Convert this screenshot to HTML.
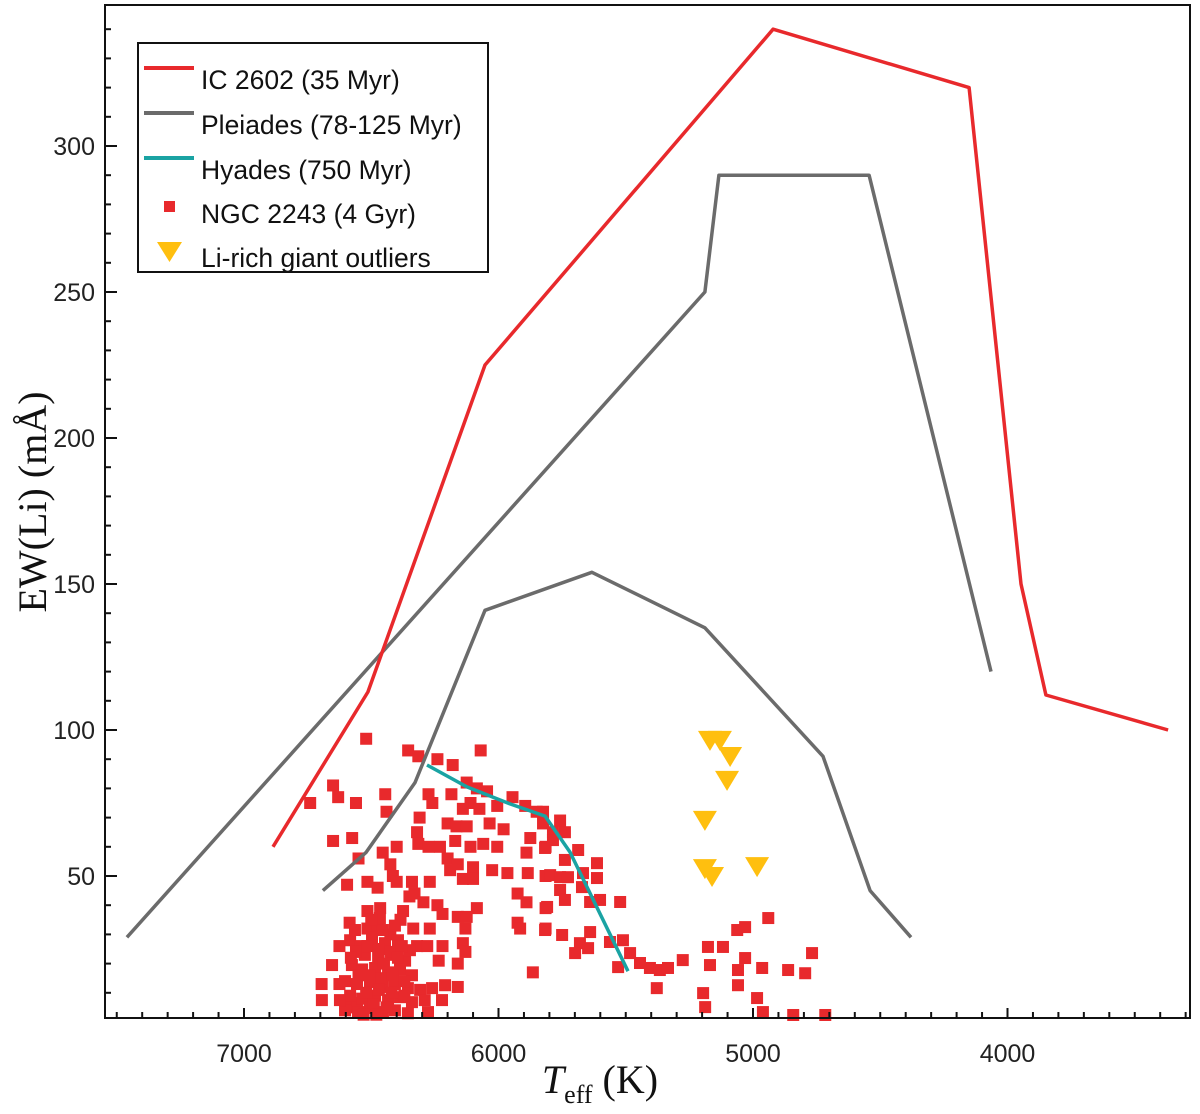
<!DOCTYPE html>
<html><head><meta charset="utf-8"><style>
html,body{margin:0;padding:0;background:#fff;}
svg{display:block;}
.tick{font-family:"Liberation Sans",sans-serif;font-size:25px;fill:#222;}
.leg{font-family:"Liberation Sans",sans-serif;font-size:26.5px;fill:#111;}
.ttl{font-family:"Liberation Serif",serif;fill:#111;}
</style></head><body>
<svg id="chart" width="1200" height="1114" viewBox="0 0 1200 1114">
<g id="plot"></g>
<rect x="105" y="5" width="1085" height="1013" fill="none" stroke="#111" stroke-width="2"/>
<g id="axes"></g>
<text class="ttl" x="0" y="0" font-size="40" transform="translate(46,502) rotate(-90)" text-anchor="middle">EW(Li) (mÅ)</text>
<text class="ttl" x="600" y="1093" font-size="40" text-anchor="middle"><tspan font-style="italic">T</tspan><tspan font-size="26" dy="10">eff</tspan><tspan dy="-10"> (K)</tspan></text>
<g>
<rect x="138" y="43" width="350" height="229" fill="#fff" stroke="#111" stroke-width="2"/>
<line x1="144" y1="68" x2="194" y2="68" stroke="#e8292c" stroke-width="4"/>
<text class="leg" x="201" y="89">IC 2602 (35 Myr)</text>
<line x1="144" y1="113" x2="194" y2="113" stroke="#6b6b6b" stroke-width="4"/>
<text class="leg" x="201" y="134">Pleiades (78-125 Myr)</text>
<line x1="144" y1="158" x2="194" y2="158" stroke="#1aa3a3" stroke-width="4"/>
<text class="leg" x="201" y="179">Hyades (750 Myr)</text>
<rect x="164" y="201" width="11" height="11" fill="#e8292c"/>
<text class="leg" x="201" y="223">NGC 2243 (4 Gyr)</text>
<polygon points="157,242 182,242 169.5,262" fill="#ffbf0f"/>
<text class="leg" x="201" y="267">Li-rich giant outliers</text>
</g>
</svg>
<script>
const xTicks=[7000,6000,5000,4000];
const yTicks=[50,100,150,200,250,300];
const ic2602=[[6886,60],[6513,113],[6053,225],[4921,340],[4151,320],[3947,150],[3849,112],[3369,100]];
const pleiadesUpper=[[7460,29],[5189,250],[5134,290],[4544,290],[4065,120]];
const pleiadesLower=[[6690,45],[6521,58],[6328,82],[6053,141],[5633,154],[5189,135],[4725,91],[4540,45],[4379,29]];
const hyades=[[6281,88],[6124,80.5],[5955,74.7],[5817,70.5],[5719,58.2],[5491,17.4]];
const giants=[[5169,96.6],[5130,96.6],[5090,91.1],[5102,82.9],[5189,69.2],[5189,52.7],[5161,50],[4984,53.4]];
const ngc2243=[
[6520,97],[6355,93],[6315,91],[6240,90],[6180,88],[6070,93],[6650,81],[6630,77],[6740,75],[6560,75],[6445,78],[6440,72],[6650,62],[6575,63],[6550,56],[6400,60],[6455,58],[6425,54],[6595,47],[6515,48],[6475,46],[6415,50],[6400,48],[6340,48],[6330,44],[6270,48],[6275,78],[6260,75],[6310,70],[6320,65],[6315,61],[6275,60],[6230,60],[6185,78],[6125,82],[6085,80],[6045,79],[6110,75],[6140,73],[6075,73],[6005,74],[5945,77],[5895,74],[5850,72],[5825,68],[6200,68],[6165,67],[6125,67],[6035,68],[5980,66],[6170,62],[6110,60],[6060,61],[6005,60],[6200,56],[6160,54],[6190,52],[6100,53],[6140,49],[6100,49],[6025,52],[5965,51],[5885,51],[5815,50],[5890,58],[5875,63],[5815,60],[5925,44],[5890,41],[5815,39],[6515,38],[6465,39],[6375,38],[6350,43],[6295,41],[6240,40],[6220,37],[6160,36],[6125,36],[6085,39],[6585,34],[6385,35],[6335,32],[6270,32],[6130,32],[5925,34],[5915,32],[5815,32],[6625,26],[6515,32],[6475,33],[6425,30],[6320,26],[6280,26],[6220,26],[6235,21],[6140,27],[6130,24],[6160,20],[5865,17],[6695,13],[6625,13],[6160,12],[6595,5],[6555,6.5],
[6583,28],[6544,26],[6497,29],[6446,27],[6395,28],[6525,23],[6473,22],[6418,23],[6367,21],[6576,19.5],[6536,18],[6485,18.5],[6434,17],[6387,18],[6340,16],[6603,14],[6556,13],[6505,13.7],[6454,12],[6407,13],[6356,11.6],[6308,11],[6261,11.6],[6210,12.6],[6583,9],[6536,8],[6485,9],[6434,7.5],[6387,8.5],[6340,6.8],[6290,7.5],[6603,4],[6552,3.4],[6505,4.8],[6454,3.4],[6407,4],[6356,3],[6623,7.5],[6407,33],[6466,35.6],[6564,31.5],[6654,19.5],[6694,7.5],[6277,3.4],[6222,7.5],[6348,24.6],[6454,31.5],
[6560,24],[6515,26],[6470,25],[6425,24],[6380,26],[6550,16],[6505,16],[6460,15],[6415,16],[6370,14],[6520,10],[6470,11],[6420,10],[6370,9],[6490,6],[6440,5],[6530,2.5],[6480,2.5],[6580,22],[6500,35],[6450,20],[6395,22],
[5825,72],[5758,69],[5786,65],[5739,65],[5817,59.6],[5786,62.3],[5687,58.9],[5739,55.5],[5797,50.3],[5758,49.6],[5727,49.6],[5668,51],[5613,54.4],[5613,49.3],[5758,45.2],[5672,46.2],[5739,41.8],[5640,41.1],[5601,41.8],[5522,41.1],[5809,39.4],[5817,31.5],[5750,29.8],[5640,30.8],[5680,27],[5648,25.3],[5699,23.6],[5562,27.4],[5511,28],[5483,23.6],[5530,18.8],[5444,20.2],[5405,18.5],[5366,17.8],[5334,18.5],[5378,11.6],[5276,21.2],[5177,25.7],[5169,19.5],[5118,25.7],[5062,31.5],[5031,32.5],[4940,35.6],[5031,21.9],[5059,17.8],[4964,18.5],[4862,17.8],[4795,16.7],[4768,23.6],[5059,12.6],[5196,9.9],[5188,5.1],[4984,8.2],[4961,3.4],[4842,2.4],[4716,2.4]
];
const NS='http://www.w3.org/2000/svg';
function xs(t){return 244+(7000-t)*0.2545;}
function ys(v){return 876-(v-50)*2.92;}
const plot=document.getElementById('plot');
const axes=document.getElementById('axes');
function mk(tag,attrs,parent){const e=document.createElementNS(NS,tag);for(const k in attrs)e.setAttribute(k,attrs[k]);parent.appendChild(e);return e;}
for(let t=7500;t>=3300;t-=100){
  const x=xs(t);const major=t%1000===0;
  const l=mk('line',{x1:x,x2:x,y1:1018,y2:major?1008:1012,stroke:'#111','stroke-width':2},axes);
  
  
}
for(let v=10;v<=340;v+=10){
  const y=ys(v);const major=v%50===0;
  const l=mk('line',{x1:105,x2:major?117:111,y1:y,y2:y,stroke:'#111','stroke-width':2},axes);
  
  
}
xTicks.forEach(t=>{const e=mk('text',{x:xs(t),y:1062,'text-anchor':'middle',class:'tick'},axes);e.textContent=t;
  
  });
yTicks.forEach(v=>{const e=mk('text',{x:95,y:ys(v)+9,'text-anchor':'end',class:'tick'},axes);e.textContent=v;
  
  });
ngc2243.forEach(p=>{const r=mk('rect',{x:xs(p[0])-6,y:ys(p[1])-6,width:12,height:12,fill:'#e8292c'},plot);
  
  });
function line(data,color,name){const pts=data.map(p=>xs(p[0]).toFixed(1)+','+ys(p[1]).toFixed(1)).join(' ');
  const e=mk('polyline',{points:pts,fill:'none',stroke:color,'stroke-width':3.5,'stroke-linejoin':'round'},plot);
  
  }
line(pleiadesUpper,'#6b6b6b','pleiades-upper-line');
line(pleiadesLower,'#6b6b6b','pleiades-lower-line');
line(ic2602,'#e8292c','ic2602-line');
line(hyades,'#1aa3a3','hyades-line');
giants.forEach(p=>{const x=xs(p[0]),y=ys(p[1]);
  const g=mk('polygon',{points:`${x-12},${y-9} ${x+12},${y-9} ${x},${y+11}`,fill:'#ffbf0f'},plot);
  
  });
</script>
</body></html>
